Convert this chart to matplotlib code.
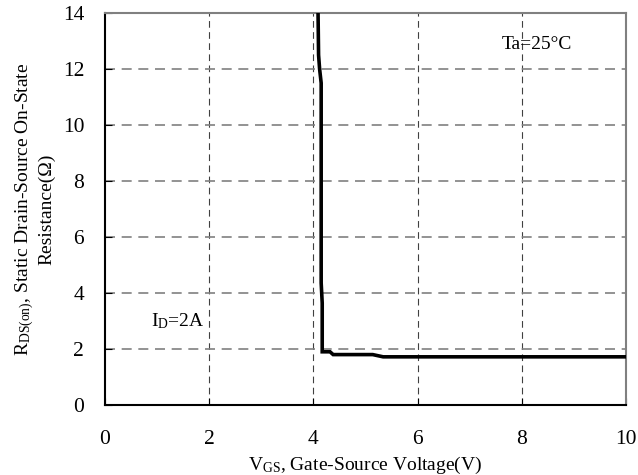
import matplotlib
matplotlib.use("Agg")
import matplotlib.pyplot as plt

plt.rcParams['font.family'] = ['Liberation Serif', 'DejaVu Serif']
plt.rcParams['mathtext.fontset'] = 'custom'
plt.rcParams['mathtext.rm'] = 'Liberation Serif'
plt.rcParams['mathtext.it'] = 'Liberation Serif'

# Data
vgs = [4.09, 4.10, 4.12, 4.15, 4.15, 4.17, 4.17, 4.32, 4.38, 5.14, 5.34, 10.0]
rds = [14.0, 12.5, 12.0, 11.5, 4.36, 3.64, 1.90, 1.90, 1.80, 1.80, 1.72, 1.72]
xticks = [0, 2, 4, 6, 8, 10]
yticks = [0, 2, 4, 6, 8, 10, 12, 14]

fig = plt.figure(figsize=(6.38, 4.75), dpi=100)
ax = fig.add_axes([0.1646, 0.1474, 0.8164, 0.8252])

for x in xticks[1:-1]:
    ax.axvline(x, color='#404040', lw=0.8, ls=(0, (6, 4)), zorder=1)
for y in yticks[1:-1]:
    ax.axhline(y, color='#808080', lw=1.2, ls=(0, (6, 4)), zorder=1)

ax.plot(vgs, rds, color='black', lw=2.6, zorder=3, solid_joinstyle='miter')

ax.set_xlim(0, 10)
ax.set_ylim(0, 14)
ax.set_xticks(xticks)
ax.set_yticks(yticks)
ax.tick_params(direction='in', length=5, labelsize=15.5, color='black')
ax.tick_params(axis='x', pad=18)
ax.tick_params(axis='y', pad=15)
for s in ['left', 'bottom']:
    ax.spines[s].set_color('black')
    ax.spines[s].set_linewidth(1.5)
for s in ['top', 'right']:
    ax.spines[s].set_color('#808080')
    ax.spines[s].set_linewidth(1.5)

ax.set_xlabel(r'V$\mathregular{_{GS}}$, Gate-Source Voltage(V)', fontsize=14, labelpad=4)
ax.set_ylabel('R$\\mathregular{_{DS(on)}}$, Static Drain-Source On-State\nResistance(Ω)', fontsize=14, labelpad=5)

ax.text(8.29, 12.86, 'Ta=25°C', fontsize=14, ha='center', va='center')
ax.text(1.4, 3.0, r'I$\mathregular{_D}$=2A', fontsize=14, ha='center', va='center')

fig.savefig('out.png', dpi=100)
